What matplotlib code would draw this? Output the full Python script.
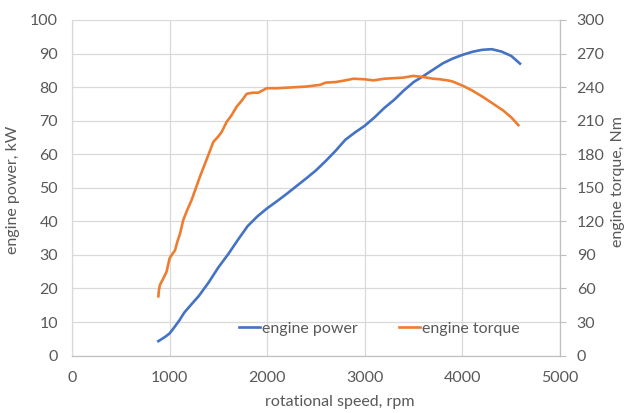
import matplotlib
matplotlib.use("Agg")
import matplotlib.pyplot as plt

plt.rcParams["font.family"] = ["Lato", "DejaVu Sans"]

# rotational speed samples (rpm) and readings
rpm_power = [885, 950, 1000, 1050, 1100, 1150, 1200, 1300, 1400, 1500, 1600, 1700,
             1800, 1900, 2000, 2100, 2200, 2300, 2400, 2500, 2600, 2700, 2800, 2900,
             3000, 3100, 3200, 3300, 3400, 3500, 3600, 3700, 3800, 3900, 4000, 4100,
             4200, 4300, 4400, 4500, 4590]
power_kw = [4.3, 5.5, 6.6, 8.5, 10.5, 12.8, 14.5, 17.8, 21.8, 26.3, 30.2, 34.5,
            38.6, 41.5, 43.9, 46.0, 48.2, 50.5, 52.8, 55.2, 58.0, 61.0, 64.3, 66.5,
            68.5, 71.0, 73.8, 76.2, 79.0, 81.5, 83.3, 85.2, 87.1, 88.5, 89.6, 90.5,
            91.1, 91.3, 90.6, 89.3, 87.0]

rpm_torque = [885, 890, 900, 930, 969, 1000, 1030, 1055, 1080, 1107, 1139, 1180,
              1225, 1311, 1400, 1448, 1500, 1534, 1585, 1636, 1687, 1740, 1790, 1850,
              1909, 1995, 2100, 2200, 2300, 2400, 2541, 2600, 2700, 2800, 2883, 3000,
              3088, 3200, 3300, 3395, 3497, 3600, 3700, 3770, 3850, 3900, 4009, 4100,
              4214, 4300, 4419, 4500, 4573]
torque_nm = [53, 58, 63, 68, 75, 87, 91, 94, 102, 109, 121, 130,
             139, 160, 180, 191, 196, 200, 209, 215, 222.5, 228, 234, 235,
             235, 239, 239, 239.5, 240, 240.5, 242, 244, 244.5, 246, 247.5, 247,
             246, 247.5, 248, 248.5, 250, 249, 247.5, 247, 246, 245, 241, 237,
             231, 226, 219, 213, 206]

x_ticks = [0, 1000, 2000, 3000, 4000, 5000]
power_ticks = list(range(0, 101, 10))
torque_ticks = list(range(0, 301, 30))

TXT = "#595959"
GRID = "#d9d9d9"
AXIS = "#bfbfbf"
FS = 11.5

fig = plt.figure(figsize=(6.3, 4.13), dpi=100)
ax = fig.add_axes([0.1143, 0.139, 0.7746, 0.8126])
ax2 = ax.twinx()

l1, = ax.plot(rpm_power, power_kw, color="#4472C4", lw=1.9, label="engine power")
l2, = ax2.plot(rpm_torque, torque_nm, color="#ED7D31", lw=1.9, label="engine torque")

ax.set_xlim(0, 5000)
ax.set_ylim(0, 100)
ax2.set_ylim(0, 300)
ax.set_xticks(x_ticks)
ax.set_yticks(power_ticks)
ax2.set_yticks(torque_ticks)

ax.grid(True, color=GRID, lw=0.9)
ax.set_axisbelow(True)

for a in (ax, ax2):
    a.spines["top"].set_visible(False)
    a.spines["left"].set_color(GRID)
    a.spines["bottom"].set_color(AXIS)
    a.spines["right"].set_color(AXIS)

ax.tick_params(axis="y", length=0, pad=10, labelsize=FS, labelcolor=TXT)
ax.tick_params(axis="x", length=0, pad=11, labelsize=FS, labelcolor=TXT)
ax2.tick_params(axis="y", length=4, color=AXIS, pad=8, labelsize=FS, labelcolor=TXT)

fig.text(0.021, 0.54, "engine power, kW", rotation=90, ha="center", va="center",
         fontsize=FS, color=TXT)
fig.text(0.981, 0.56, "engine torque, Nm", rotation=90, ha="center", va="center",
         fontsize=FS, color=TXT)
fig.text(0.54, 0.027, "rotational speed, rpm", ha="center", va="center",
         fontsize=FS, color=TXT)

leg = ax2.legend(handles=[l1, l2], loc="center", bbox_to_anchor=(0.63, 0.08),
                 ncol=2, frameon=False, fontsize=FS, handlelength=1.3,
                 handletextpad=0.15, columnspacing=2.6)
for t in leg.get_texts():
    t.set_color(TXT)

fig.savefig("out.png", dpi=100)
